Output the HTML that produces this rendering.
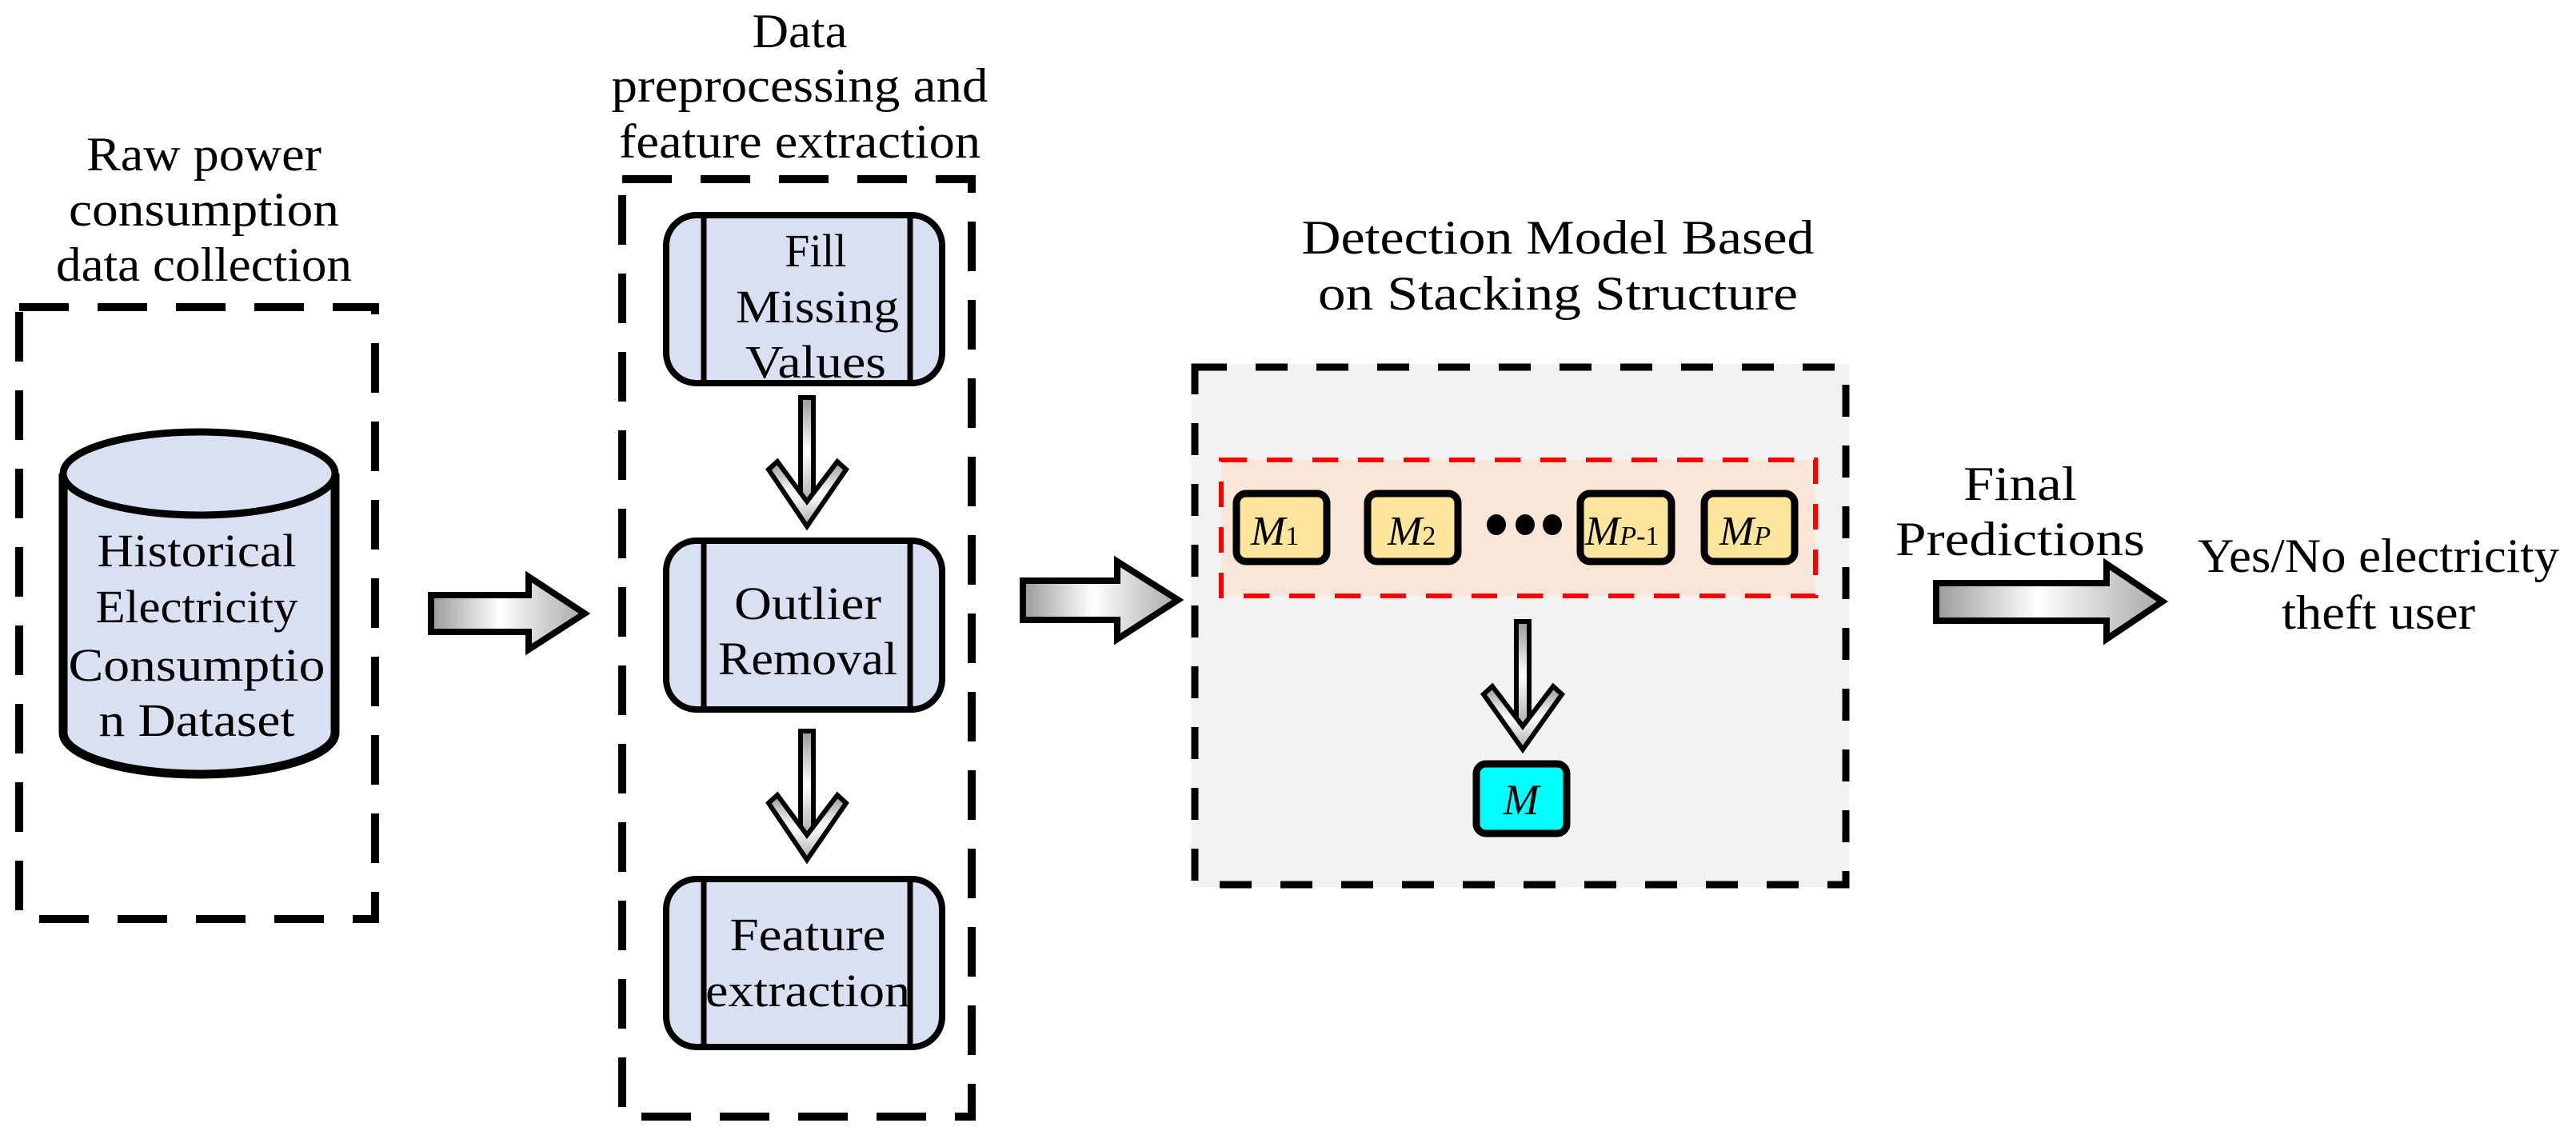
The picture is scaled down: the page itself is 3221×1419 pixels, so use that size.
<!DOCTYPE html>
<html><head><meta charset="utf-8"><style>
html,body{margin:0;padding:0;background:#fff}
svg{display:block}
text{font-family:"Liberation Serif",serif;fill:#000}
</style></head><body>
<svg width="3221" height="1419" viewBox="0 0 3221 1419" xmlns="http://www.w3.org/2000/svg">
<defs>
<linearGradient id="ag" x1="0" x2="1" y1="0" y2="0">
<stop offset="0" stop-color="#9a9a9a"/><stop offset="0.45" stop-color="#ffffff"/><stop offset="1" stop-color="#a8a8a8"/>
</linearGradient>
<linearGradient id="vg" x1="0" x2="0" y1="0" y2="1">
<stop offset="0" stop-color="#9a9a9a"/><stop offset="0.5" stop-color="#ffffff"/><stop offset="1" stop-color="#a8a8a8"/>
</linearGradient>
</defs>

<!-- Left section -->
<g font-size="60" text-anchor="middle">
<text x="255" y="213" textLength="294" lengthAdjust="spacingAndGlyphs">Raw power</text>
<text x="255" y="282" textLength="338" lengthAdjust="spacingAndGlyphs">consumption</text>
<text x="255" y="351" textLength="370" lengthAdjust="spacingAndGlyphs">data collection</text>
</g>
<rect x="24" y="384" width="445" height="765" fill="none" stroke="#000" stroke-width="10" stroke-dasharray="62,36"/>
<path d="M79 592 L79 916 A170 52 0 0 0 419 916 L419 592" fill="#d9e0f2" stroke="#000" stroke-width="11"/>
<ellipse cx="249" cy="592" rx="170" ry="52" fill="#d9e0f2" stroke="#000" stroke-width="9"/>
<g font-size="58" text-anchor="middle">
<text x="246" y="708" textLength="249" lengthAdjust="spacingAndGlyphs">Historical</text>
<text x="246" y="778" textLength="253" lengthAdjust="spacingAndGlyphs">Electricity</text>
<text x="246" y="851" textLength="321" lengthAdjust="spacingAndGlyphs">Consumptio</text>
<text x="246" y="920" textLength="245" lengthAdjust="spacingAndGlyphs">n Dataset</text>
</g>

<path d="M539 744 L661 744 L661 721 L731 767 L661 812 L661 790 L539 790 Z" fill="url(#ag)" stroke="#000" stroke-width="8"/>

<!-- Middle section -->
<g font-size="60" text-anchor="middle">
<text x="1000" y="59" textLength="119" lengthAdjust="spacingAndGlyphs">Data</text>
<text x="1000" y="127" textLength="471" lengthAdjust="spacingAndGlyphs">preprocessing and</text>
<text x="1000" y="197" textLength="452" lengthAdjust="spacingAndGlyphs">feature extraction</text>
</g>
<rect x="778" y="224" width="437" height="1172" fill="none" stroke="#000" stroke-width="10" stroke-dasharray="62,36"/>

<g fill="#d9e0f2" stroke="#000" stroke-width="8">
<rect x="833" y="269" width="345" height="210" rx="38"/>
<rect x="833" y="676" width="345" height="211" rx="38"/>
<rect x="833" y="1099" width="345" height="210" rx="38"/>
</g>
<g stroke="#000" stroke-width="7">
<line x1="880" y1="269" x2="880" y2="479"/><line x1="1138" y1="269" x2="1138" y2="479"/>
<line x1="880" y1="676" x2="880" y2="887"/><line x1="1138" y1="676" x2="1138" y2="887"/>
<line x1="880" y1="1099" x2="880" y2="1309"/><line x1="1138" y1="1099" x2="1138" y2="1309"/>
</g>
<g font-size="58" text-anchor="middle">
<text x="1020" y="333" textLength="77" lengthAdjust="spacingAndGlyphs">Fill</text>
<text x="1022" y="403" textLength="204" lengthAdjust="spacingAndGlyphs">Missing</text>
<text x="1020" y="472" textLength="176" lengthAdjust="spacingAndGlyphs">Values</text>
<text x="1010" y="774" textLength="184" lengthAdjust="spacingAndGlyphs">Outlier</text>
<text x="1010" y="843" textLength="224" lengthAdjust="spacingAndGlyphs">Removal</text>
<text x="1010" y="1188" textLength="195" lengthAdjust="spacingAndGlyphs">Feature</text>
<text x="1010" y="1258" textLength="256" lengthAdjust="spacingAndGlyphs">extraction</text>
</g>

<!-- down arrows middle (shaft + chevron head) -->
<g stroke="#000" stroke-width="6" stroke-linejoin="miter">
<rect x="1001" y="497" width="16" height="135" fill="url(#vg)"/>
<path d="M961 587 L972 577 L1009 627 L1047 577 L1058 587 L1009 658 Z" fill="url(#vg)"/>
<rect x="1001" y="914" width="16" height="135" fill="url(#vg)"/>
<path d="M961 1004 L972 994 L1009 1044 L1047 994 L1058 1004 L1009 1075 Z" fill="url(#vg)"/>
</g>

<path d="M1279 726 L1397 726 L1397 702 L1473 750 L1397 799 L1397 775 L1279 775 Z" fill="url(#ag)" stroke="#000" stroke-width="8"/>

<!-- Right section -->
<g font-size="60" text-anchor="middle">
<text x="1948" y="317" textLength="641" lengthAdjust="spacingAndGlyphs">Detection Model Based</text>
<text x="1948" y="387" textLength="600" lengthAdjust="spacingAndGlyphs">on Stacking Structure</text>
</g>
<rect x="1490" y="455" width="822" height="654" fill="#f2f2f2"/>
<rect x="1494" y="459" width="814" height="647" fill="none" stroke="#000" stroke-width="9" stroke-dasharray="40,36"/>
<rect x="1527" y="575" width="743" height="170" fill="#fae6d8" stroke="#ff0000" stroke-width="6" stroke-dasharray="32,25"/>
<g fill="#fde59b" stroke="#000" stroke-width="9">
<rect x="1546" y="617" width="113" height="85" rx="12"/>
<rect x="1710" y="617" width="113" height="85" rx="12"/>
<rect x="1976" y="617" width="114" height="85" rx="12"/>
<rect x="2131" y="617" width="113" height="85" rx="12"/>
</g>
<g font-style="italic" font-size="52">
<text x="1564" y="681">M<tspan font-size="34" font-style="normal">1</tspan></text>
<text x="1735" y="681">M<tspan font-size="34" font-style="normal">2</tspan></text>
<text x="1982" y="681">M<tspan font-size="34">P</tspan><tspan font-size="34" font-style="normal">-1</tspan></text>
<text x="2150" y="681">M<tspan font-size="34">P</tspan></text>
</g>
<g fill="#000">
<ellipse cx="1871" cy="656" rx="12" ry="13"/>
<ellipse cx="1907" cy="656" rx="12" ry="13"/>
<ellipse cx="1941" cy="656" rx="12" ry="13"/>
</g>
<g stroke="#000" stroke-width="6">
<rect x="1896" y="777" width="16" height="135" fill="url(#vg)"/>
<path d="M1855 868 L1866 858 L1904 908 L1942 858 L1953 868 L1904 937 Z" fill="url(#vg)"/>
</g>
<rect x="1846" y="955" width="113" height="87" rx="12" fill="#00ffff" stroke="#000" stroke-width="9"/>
<text x="1902" y="1018" font-size="54" font-style="italic" text-anchor="middle">M</text>

<g font-size="60" text-anchor="middle">
<text x="2526" y="625" textLength="142" lengthAdjust="spacingAndGlyphs">Final</text>
<text x="2526" y="694" textLength="312" lengthAdjust="spacingAndGlyphs">Predictions</text>
<text x="2974" y="715" textLength="452" lengthAdjust="spacingAndGlyphs">Yes/No electricity</text>
<text x="2974" y="786" textLength="242" lengthAdjust="spacingAndGlyphs">theft user</text>
</g>
<path d="M2421 729 L2634 729 L2634 705 L2704 752 L2634 799 L2634 776 L2421 776 Z" fill="url(#ag)" stroke="#000" stroke-width="8"/>
</svg>
</body></html>
